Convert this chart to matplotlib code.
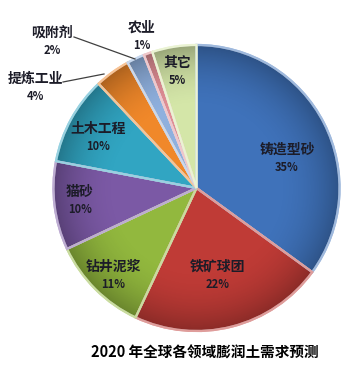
import matplotlib.pyplot as plt
import matplotlib.colors as mcolors
import numpy as np

plt.rcParams['font.family'] = ['Noto Sans CJK SC', 'DejaVu Sans']

# --- data ---
labels = ['铸造型砂', '铁矿球团', '钻井泥浆', '猫砂', '土木工程',
          '提炼工业', '吸附剂', '农业', '其它']
shares = [35, 22, 11, 10, 10, 4, 2, 1, 5]
colors = ['#3F72BA', '#BF3B36', '#92B83E', '#7B59A5', '#31A5C2',
          '#F0882A', '#8FB0DE', '#E08E95', '#D4E6A8']
title = '2020 年全球各领域膨润土需求预测'

W, H = 352, 373
fig = plt.figure(figsize=(W / 100, H / 100), dpi=100)
ax = fig.add_axes([0, 0, 1, 1])

cx, cy, r = 196.5, H - 188, 143


def lighter(c, f=0.45):
    rgb = np.array(mcolors.to_rgb(c))
    return tuple(rgb + (1 - rgb) * f)


wedges, _ = ax.pie(shares, colors=colors, startangle=90, counterclock=False,
                   center=(cx, cy), radius=r,
                   wedgeprops=dict(linewidth=1.6))
for w, c in zip(wedges, colors):
    w.set_edgecolor(lighter(c, 0.5))

# darken towards the rim to get the glossy excel look
yy, xx = np.mgrid[0:H, 0:W]
dist = np.hypot(xx - cx, (H - yy) - cy) / r
shade = np.zeros((H, W, 4))
shade[..., 3] = np.clip((dist - 0.55) / 0.45, 0, 1) ** 2 * 0.28
img = ax.imshow(shade, extent=(0, W, 0, H), origin='upper', zorder=3)
circ = plt.Circle((cx, cy), r, transform=ax.transData)
img.set_clip_path(circ)
for w in wedges:
    w.set_zorder(2)
edges = []
for w, c in zip(wedges, colors):
    e = plt.matplotlib.patches.Wedge((cx, cy), r, w.theta1, w.theta2,
                                     facecolor='none', edgecolor=lighter(c, 0.5),
                                     linewidth=1.6, zorder=4)
    ax.add_patch(e)

ax.set_xlim(0, W)
ax.set_ylim(0, H)
ax.set_aspect('equal')
ax.axis('off')

# label positions in pixel coords (name, pct)
label_pos = [(287, 150), (218, 267), (113, 267), (80, 192), (98, 129),
             (35, 79), (52, 33), (142, 28), (177, 63)]
txt_col = '#1C1C28'
for name, val, (lx, ly) in zip(labels, shares, label_pos):
    ax.text(lx, H - ly, name, ha='center', va='center', fontsize=10,
            fontweight='bold', color=txt_col, zorder=6)
    ax.text(lx, H - ly - 17.5, f'{val}%', ha='center', va='center',
            fontsize=8, fontweight='bold', color=txt_col, zorder=6)

# leader lines for small slices
ax.plot([74, 135], [H - 37, H - 59], color='#404040', lw=0.9, zorder=6)
ax.plot([63, 104], [H - 82, H - 74], color='#404040', lw=0.9, zorder=6)

ax.text(205, H - 353, title, ha='center', va='center', fontsize=10.5,
        fontweight='bold', color='black')

fig.savefig('out.png', dpi=100)
